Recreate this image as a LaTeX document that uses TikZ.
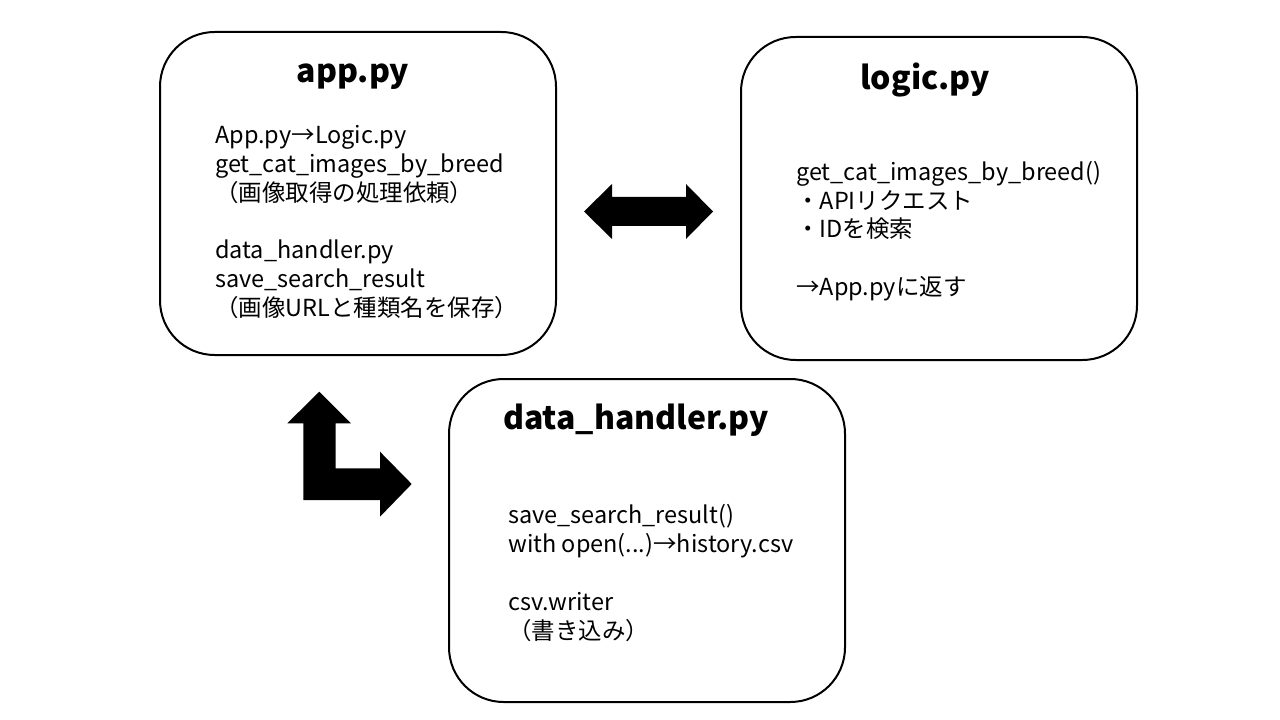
\documentclass[tikz,border=0pt]{standalone}
\usepackage{fontspec}
\setmainfont{Noto Sans CJK JP}
\begin{document}
\begin{tikzpicture}[x=0.75pt,y=-0.75pt,
  box/.style={draw=black, line width=1.5pt, rounded corners=41pt, inner sep=0pt,
    minimum width=297pt, minimum height=242.25pt},
  title/.style={font=\fontsize{24}{28.8}\selectfont\bfseries, inner sep=0pt},
  body/.style={font=\fontsize{17.6}{21.6}\selectfont, align=left, inner sep=0pt, anchor=west},
  blockarrow/.style={fill=black, draw=none}]
\useasboundingbox (0,0) rectangle (1280,720);
\fill[white] (0,0) rectangle (1280,720);

\node[box] (app) at (358,193.5) {};
\node[box] (logic) at (939,198.5) {};
\node[box] (data) at (647,540.5) {};

\node[title] (apptitle) at (353,77) {app.py};
\node[title] (logictitle) at (925,80) {logic.py};
\node[title] (datatitle) at (636,420) {data\_handler.py};

\node[body] (appbody) at (215,222) {App.py→Logic.py\\get\_cat\_images\_by\_breed\\（画像取得の処理依頼）\\[21.6pt]data\_handler.py\\save\_search\_result\\（画像URLと種類名を保存）};
\node[body] (logicbody) at (796,231) {get\_cat\_images\_by\_breed()\\・APIリクエスト\\・IDを検索\\[21.6pt]→App.pyに返す};
\node[body] (databody) at (508,573) {save\_search\_result()\\with open(...)→history.csv\\[21.6pt]csv.writer\\（書き込み）};

% double arrow between app and logic
\fill[blockarrow] (584,211.5) -- (612,184) -- (612,197) -- (686,197) -- (686,184) -- (713,211.5)
  -- (686,239) -- (686,226) -- (612,226) -- (612,239) -- cycle;

% bent arrow between app and data_handler
\fill[blockarrow] (319.3,391.7) -- (351,423.3) -- (335.7,423.3) -- (335.7,468.3) -- (380,468.3)
  -- (380,451.7) -- (411.7,484) -- (380,516.7) -- (380,500) -- (303.3,500) -- (303.3,423.3)
  -- (287.3,423.3) -- cycle;
\end{tikzpicture}
\end{document}
